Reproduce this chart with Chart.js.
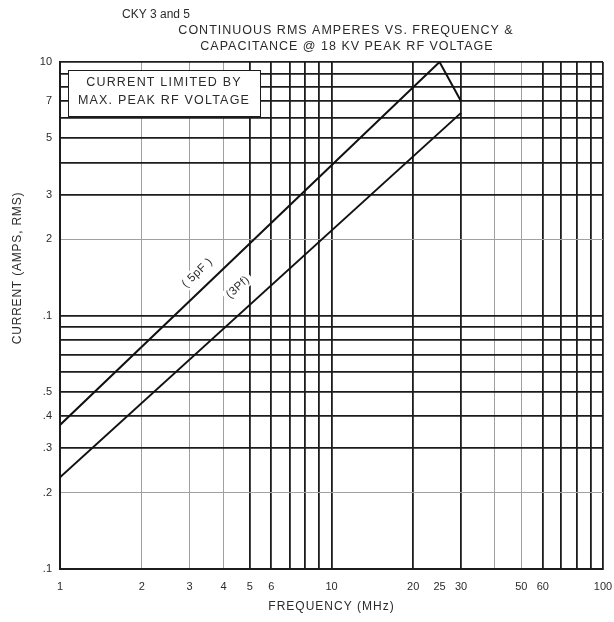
<!DOCTYPE html>
<html>
<head>
<meta charset="utf-8">
<script src="https://cdn.jsdelivr.net/npm/chart.js@4.4.1/dist/chart.umd.min.js"></script>
<style>
  html, body { margin: 0; padding: 0; background: #fff; }
  #wrap { width: 614px; height: 622px; }
</style>
</head>
<body>
<div id="wrap"><canvas id="chart" width="614" height="622"></canvas></div>
<script>
// frequency axis (MHz)
const freqTicks = [1, 2, 3, 4, 5, 6, 7, 8, 9, 10, 20, 25, 30, 40, 50, 60, 70, 80, 90, 100];
const freqTickLabels = ['1', '2', '3', '4', '5', '6', '', '', '', '10', '20', '25', '30', '', '50', '60', '', '', '', '100'];
const freqLight = [2, 3, 4, 40, 50];
const freqNoLine = [25];

// current axis (amps rms) - labels as printed on the sheet
const currentTicks = [0.1, 0.2, 0.3, 0.4, 0.5, 0.6, 0.7, 0.8, 0.9, 1, 2, 3, 4, 5, 6, 7, 8, 9, 10];
const currentTickLabels = ['.1', '.2', '.3', '.4', '.5', '', '', '', '', '.1', '2', '3', '', '5', '', '7', '', '', '10'];
const currentLight = [0.2, 2];

// curves
const curve5pF = [{ x: 1, y: 0.37 }, { x: 25, y: 10 }, { x: 30, y: 7 }];
const curve3pF = [{ x: 1, y: 0.23 }, { x: 30, y: 6.3 }];

const titleLines = ['CKY 3 and 5', 'CONTINUOUS RMS AMPERES VS. FREQUENCY &', 'CAPACITANCE @ 18 KV PEAK RF VOLTAGE'];
const noteLines = ['CURRENT LIMITED BY', 'MAX. PEAK RF VOLTAGE'];

const FONT = '"Liberation Sans", Arial, sans-serif';
const INK = '#2b2b2b';
const DARK = '#1c1c1c';
const LIGHT = '#a0a0a0';

const gridColor = (light, none) => (ctx) => {
  const v = ctx.tick ? ctx.tick.value : null;
  if (none.includes(v)) return 'rgba(0,0,0,0)';
  return light.includes(v) ? LIGHT : DARK;
};
const gridWidth = (light) => (ctx) => {
  const v = ctx.tick ? ctx.tick.value : null;
  return light.includes(v) ? 1 : 1.8;
};

const wideText = (ctx, text, x, y, size, spacing) => {
  ctx.font = `${size}px ${FONT}`;
  ctx.letterSpacing = `${spacing}px`;
  ctx.fillText(text, x, y);
  ctx.letterSpacing = '0px';
};

const labelOnCurve = (chart, pts, freq, offset, text) => {
  const { ctx, scales: { x, y } } = chart;
  const ax = x.getPixelForValue(pts[0].x), ay = y.getPixelForValue(pts[0].y);
  const bx = x.getPixelForValue(pts[1].x), by = y.getPixelForValue(pts[1].y);
  const ang = Math.atan2(by - ay, bx - ax);
  const px = x.getPixelForValue(freq);
  const py = ay + (px - ax) / (bx - ax) * (by - ay);
  const cx = px + Math.sin(ang) * offset;
  const cy = py - Math.cos(ang) * offset;

  ctx.save();
  ctx.translate(cx, cy);
  ctx.rotate(ang);
  ctx.font = `11.5px ${FONT}`;
  ctx.letterSpacing = '0.5px';
  const w = ctx.measureText(text).width;
  ctx.fillStyle = '#fff';
  ctx.fillRect(-w / 2 - 3, -7, w + 6, 14);
  ctx.fillStyle = INK;
  ctx.textAlign = 'center';
  ctx.textBaseline = 'middle';
  ctx.fillText(text, 0, 0);
  ctx.restore();
};

const decorations = {
  id: 'decorations',
  afterDraw(chart) {
    const { ctx, chartArea } = chart;
    ctx.save();
    ctx.fillStyle = INK;
    ctx.textBaseline = 'middle';

    ctx.textAlign = 'left';
    wideText(ctx, titleLines[0], 122, 15, 12, 0);
    ctx.textAlign = 'center';
    wideText(ctx, titleLines[1], 346, 31, 12.5, 1);
    wideText(ctx, titleLines[2], 347, 47, 12.5, 1);

    // axis titles
    wideText(ctx, 'FREQUENCY (MHz)', (chartArea.left + chartArea.right) / 2, 607, 12, 1);
    ctx.save();
    ctx.translate(18, 268);
    ctx.rotate(-Math.PI / 2);
    wideText(ctx, 'CURRENT (AMPS, RMS)', 0, 0, 12, 0.8);
    ctx.restore();

    // note box
    const bx = chartArea.left + 8, by = chartArea.top + 8, bw = 192, bh = 46;
    ctx.fillStyle = '#fff';
    ctx.fillRect(bx, by, bw, bh);
    ctx.strokeStyle = DARK;
    ctx.lineWidth = 1;
    ctx.strokeRect(bx + 0.5, by + 0.5, bw, bh);
    ctx.fillStyle = INK;
    wideText(ctx, noteLines[0], bx + bw / 2, by + 13, 12.5, 1.2);
    wideText(ctx, noteLines[1], bx + bw / 2, by + 31, 12.5, 1.2);
    ctx.restore();

    labelOnCurve(chart, curve5pF, 3.5, 15, '( 5pF )');
    labelOnCurve(chart, curve3pF, 5.1, 21, '(3Pf)');
  }
};

const tickFont = { family: FONT, size: 11 };

new Chart(document.getElementById('chart'), {
  type: 'scatter',
  data: {
    datasets: [
      { label: '5pF', data: curve5pF, showLine: true, borderColor: '#111', borderWidth: 2, pointRadius: 0, fill: false },
      { label: '3pF', data: curve3pF, showLine: true, borderColor: '#111', borderWidth: 2, pointRadius: 0, fill: false },
    ],
  },
  options: {
    responsive: false,
    animation: false,
    layout: { padding: { top: 62, right: 11, left: 0, bottom: 0 } },
    plugins: { legend: { display: false }, tooltip: { enabled: false } },
    scales: {
      x: {
        type: 'logarithmic',
        min: 1,
        max: 100,
        afterBuildTicks: (scale) => { scale.ticks = freqTicks.map((value) => ({ value })); },
        afterFit: (scale) => {
          scale.height = 53;
          scale.paddingLeft = 0;
          scale.paddingRight = 0;
        },
        ticks: {
          autoSkip: false,
          maxRotation: 0,
          padding: 11,
          color: INK,
          font: tickFont,
          callback: (value, index) => freqTickLabels[index],
        },
        grid: { drawTicks: false, color: gridColor(freqLight, freqNoLine), lineWidth: gridWidth(freqLight) },
        border: { display: true, color: DARK, width: 2 },
      },
      y: {
        type: 'logarithmic',
        min: 0.1,
        max: 10,
        afterBuildTicks: (scale) => { scale.ticks = currentTicks.map((value) => ({ value })); },
        afterFit: (scale) => {
          scale.width = 60;
          scale.paddingTop = 0;
          scale.paddingBottom = 0;
        },
        ticks: {
          autoSkip: false,
          padding: 8,
          color: INK,
          font: tickFont,
          callback: (value, index) => currentTickLabels[index],
        },
        grid: { drawTicks: false, color: gridColor(currentLight, []), lineWidth: gridWidth(currentLight) },
        border: { display: true, color: DARK, width: 2 },
      },
    },
  },
  plugins: [decorations],
});
</script>
</body>
</html>
